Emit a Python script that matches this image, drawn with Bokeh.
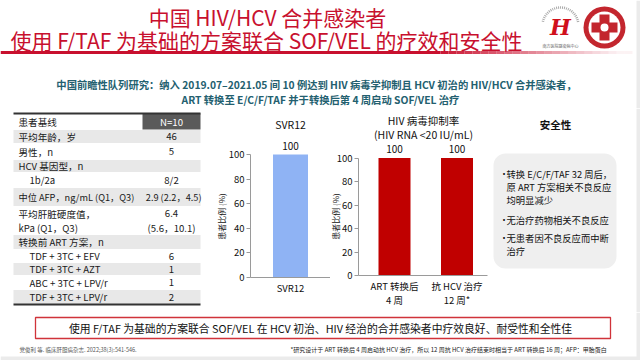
from bokeh.plotting import figure
from bokeh.layouts import column, row
from bokeh.models import Range1d, FixedTicker, LinearAxis
from bokeh.core.properties import value
from bokeh.embed import file_html
from bokeh.resources import INLINE

FONT = "Noto Sans CJK SC"
RED = "#c8102e"
STRIP = "#ebebeb"

# ---------------- data ----------------
title_lines = ["中国 HIV/HCV 合并感染者",
               "使用 F/TAF 为基础的方案联合 SOF/VEL 的疗效和安全性"]
subtitle_lines = ["中国前瞻性队列研究：纳入 2019.07–2021.05 间 10 例达到 HIV 病毒学抑制且 HCV 初治的 HIV/HCV 合并感染者，",
                  "ART 转换至 E/C/F/TAF 并于转换后第 4 周启动 SOF/VEL 治疗"]
table_header = ["患者基线", "N=10"]
table_labels = [["平均年龄，岁"], ["男性，n"], ["HCV 基因型，n"], ["1b/2a"],
                ["中位 AFP，ng/mL (Q1，Q3)"], ["平均肝脏硬度值，", "kPa (Q1，Q3)"],
                ["转换前 ART 方案，n"], ["TDF + 3TC + EFV"], ["TDF + 3TC + AZT"],
                ["ABC + 3TC + LPV/r"], ["TDF + 3TC + LPV/r"]]
table_values = [["46"], ["5"], [], ["8/2"], ["2.9 (2.2，4.5)"], ["6.4", "(5.6，10.1)"],
                [], ["6"], ["1"], ["1"], ["2"]]
table_indent = [0, 0, 0, 1, 0, 0, 0, 1, 1, 1, 1]
svr_title = "SVR12"
svr_categories = ["SVR12"]
svr_values = [100]
hiv_title = ["HIV 病毒抑制率", "(HIV RNA <20 IU/mL)"]
hiv_categories_l1 = ["ART 转换后", "抗 HCV 治疗"]
hiv_categories_l2 = ["4 周", "12 周*"]
hiv_values = [100, 100]
y_ticks = [0, 20, 40, 60, 80, 100]
y_label = "患者比例 (%)"
safety_title = "安全性"
safety_items = [["转换 E/C/F/TAF 32 周后，", "原 ART 方案相关不良反应", "均明显减少"],
                ["无治疗药物相关不良反应"],
                ["无患者因不良反应而中断", "治疗"]]
conclusion = "使用 F/TAF 为基础的方案联合 SOF/VEL 在 HCV 初治、HIV 经治的合并感染者中疗效良好、耐受性和全性佳"
footnote_left = "党俊利 等. 临床肝胆病杂志. 2022;38(3):541-546."
footnote_right = "*研究设计于 ART 转换后 4 周启动抗 HCV 治疗，所以 12 周抗 HCV 治疗结束时相当于 ART 转换后 16 周；AFP：甲胎蛋白"


def canvas(x0, x1, y0, y1):
    p = figure(width=x1 - x0, height=y1 - y0, x_range=Range1d(x0, x1),
               y_range=Range1d(y1, y0), output_backend="svg",
               toolbar_location=None, x_axis_location=None, y_axis_location=None,
               min_border=0, outline_line_color=None)
    p.grid.visible = False
    p.background_fill_color = "white"
    p.border_fill_color = "white"
    return p


def txt(p, x, y, s, size, color="#1a1a1a", align="left", style="normal",
        angle=0.0, font=FONT):
    p.text(x=[x], y=[y], text=[s], text_font=value(font),
           text_font_size=f"{size}px", text_color=color, text_align=align,
           text_baseline="middle", text_font_style=style, angle=angle)


# ---------------- top ----------------
top = canvas(0, 640, 0, 108)
top.quad(left=[636], right=[640], top=[0], bottom=[108], fill_color=STRIP, line_color=None)
txt(top, 267, 16, title_lines[0], 21, RED, align="center")
txt(top, 266, 39, title_lines[1], 21, RED, align="center")
top.segment(x0=[0], y0=[52], x1=[440], y1=[52], line_color=RED, line_width=3)
n = 24
for i in range(n):
    xa = 440 + i * 8
    top.segment(x0=[xa], y0=[52], x1=[xa + 8], y1=[52], line_color=RED,
                line_width=3, line_alpha=max(0.05, 1 - (i + 1) / n))
# logos
top.arc(x=[560], y=[25], radius=18, start_angle=0.2, end_angle=2.95,
        line_color="#aaaaaa", line_width=2.5, line_dash="1 1")
txt(top, 560, 26, "H", 22, "#d0101c", align="center", style="bold italic",
    font="DejaVu Serif")
txt(top, 560, 45, "南方医院感染病中心", 4, "#666666", align="center")
top.circle(x=[604], y=[27], radius=21, fill_color="#c3262e", line_color=None)
top.circle(x=[604], y=[27], radius=16, fill_color="white", line_color=None)
top.quad(left=[599], right=[609], top=[14], bottom=[40], fill_color="#c3262e", line_color=None)
top.quad(left=[591], right=[617], top=[22], bottom=[32], fill_color="#c3262e", line_color=None)
top.circle(x=[604], y=[27], radius=4, fill_color="white", line_color=None)
txt(top, 316, 84, subtitle_lines[0], 10.3, "#23606f", align="center", style="bold")
txt(top, 320, 99, subtitle_lines[1], 10.3, "#23606f", align="center", style="bold")

# ---------------- table ----------------
tab = canvas(0, 205, 108, 312)
row_edges = [113, 129, 143, 159, 172, 187, 206, 234, 249, 262, 275, 289, 304]
tab.quad(left=[142], right=[200], top=[row_edges[0]], bottom=[row_edges[1]],
         fill_color="#5a5a5a", line_color=None)
for i in range(len(table_labels)):
    t, b = row_edges[i + 1], row_edges[i + 2]
    if i % 2 == 0:
        tab.quad(left=[13], right=[200], top=[t + 0.5], bottom=[b - 0.5],
                 fill_color="#e8e8e8", line_color=None)
tab.segment(x0=[13], y0=[113], x1=[200], y1=[113], line_color="#333333", line_width=2)
tab.segment(x0=[13], y0=[304], x1=[200], y1=[304], line_color="#333333", line_width=2)
TF = 9.6
txt(tab, 18, 121, table_header[0], TF)
txt(tab, 171, 121, table_header[1], TF, "white", align="center")
for i, (labs, vals, ind) in enumerate(zip(table_labels, table_values, table_indent)):
    yc = (row_edges[i + 1] + row_edges[i + 2]) / 2
    k = len(labs)
    for j, lab in enumerate(labs):
        txt(tab, 29 if ind else 18, yc + (j - (k - 1) / 2) * 14, lab,
            9.2 if i == 4 else TF)
    kv = len(vals)
    for j, val in enumerate(vals):
        yy = yc + (j - (kv - 1) / 2) * 14
        if i == 4:
            txt(tab, 201, yy, val, 9.2, align="right")
        else:
            txt(tab, 171, yy, val, TF, align="center")


# ---------------- bar charts ----------------
def style_axis(ax):
    ax.minor_tick_line_color = None
    ax.axis_line_color = "#9a9a9a"
    ax.major_tick_line_color = "#9a9a9a"
    ax.major_label_text_font = FONT
    ax.major_label_text_font_size = "9.5px"
    ax.major_label_text_color = "#111111"


def bar_chart(x0, x1, frame_left, frame_right, zero_px, hundred_px, ncat, vals,
              color, bar_px, spacing_px, first_center_px):
    ppu = (zero_px - hundred_px) / 100.0
    xs = list(range(ncat))
    p = figure(width=x1 - x0, height=204,
               x_range=Range1d(-(first_center_px - x0) / spacing_px,
                               (x1 - first_center_px) / spacing_px),
               y_range=Range1d(-(312 - zero_px) / ppu, (zero_px - 108) / ppu),
               output_backend="svg", toolbar_location=None,
               x_axis_location=None, y_axis_location=None,
               min_border=0, outline_line_color=None)
    p.grid.visible = False
    p.background_fill_color = "white"
    p.border_fill_color = "white"
    p.vbar(x=xs, top=vals, width=bar_px / spacing_px, fill_color=color, line_color=None)
    p.text(x=xs, y=vals, text=[str(v) for v in vals], text_font=value(FONT),
           text_font_size="10px", text_color="#111111", text_align="center",
           text_baseline="middle", y_offset=-9)
    xl = -(first_center_px - frame_left) / spacing_px
    xr = (frame_right - first_center_px) / spacing_px
    ya = LinearAxis(ticker=FixedTicker(ticks=y_ticks), bounds=(0, 100),
                    fixed_location=xl, major_tick_out=4, major_tick_in=0,
                    major_label_standoff=2)
    style_axis(ya)
    p.add_layout(ya, "left")
    xa = LinearAxis(ticker=FixedTicker(ticks=xs), bounds=(xl, xr), fixed_location=0,
                    major_tick_out=0, major_tick_in=0, major_label_standoff=3)
    style_axis(xa)
    p.add_layout(xa, "below")
    return p, ppu, xa


svr, svr_ppu, svr_xa = bar_chart(205, 330, 250, 330, 277, 154, len(svr_categories),
                                 svr_values, "#8fb3f4", 35, 80, 290)
svr_xa.major_label_overrides = {i: c for i, c in enumerate(svr_categories)}
svr.text(x=[0], y=[(277 - 124) / svr_ppu], text=[svr_title], text_font=value(FONT),
         text_font_size="10.5px", text_color="#111111", text_align="center",
         text_baseline="middle")
svr.text(x=[(221 - 290) / 80], y=[(277 - 216) / svr_ppu], text=[y_label],
         text_font=value(FONT), text_font_size="8px", text_color="#111111",
         text_align="center", text_baseline="middle", angle=1.5708)

hiv, hiv_ppu, hiv_xa = bar_chart(330, 490, 358, 487, 275, 157.5, len(hiv_values),
                                 hiv_values, "#c00000", 32, 62.5, 394)
hiv_xa.major_label_overrides = {i: c for i, c in enumerate(hiv_categories_l1)}
xa2 = LinearAxis(ticker=FixedTicker(ticks=[0, 1]), fixed_location=0,
                 major_tick_out=0, major_tick_in=0, major_label_standoff=17)
style_axis(xa2)
xa2.axis_line_color = None
xa2.major_label_overrides = {i: c for i, c in enumerate(hiv_categories_l2)}
hiv.add_layout(xa2, "below")
hiv.text(x=[(423 - 394) / 62.5] * 2, y=[(275 - 120) / hiv_ppu, (275 - 134) / hiv_ppu],
         text=hiv_title, text_font=value(FONT), text_font_size="10.5px",
         text_color="#111111", text_align="center", text_baseline="middle")
hiv.text(x=[(335 - 394) / 62.5], y=[(275 - 216) / hiv_ppu], text=[y_label],
         text_font=value(FONT), text_font_size="8px", text_color="#111111",
         text_align="center", text_baseline="middle", angle=1.5708)

# ---------------- safety ----------------
saf = canvas(490, 640, 108, 312)
saf.quad(left=[636], right=[640], top=[108], bottom=[312], fill_color=STRIP, line_color=None)
txt(saf, 555, 124, safety_title, 10.5, "#111111", align="center", style="bold")
saf.quad(left=[493], right=[616], top=[153], bottom=[268], fill_color="#efefef",
         line_color=None, border_radius=12)
line_ys = [[173, 186, 199], [219], [237, 250]]
for item, ys in zip(safety_items, line_ys):
    txt(saf, 499, ys[0], "•", 9, "#111111")
    for s, yy in zip(item, ys):
        txt(saf, 506, yy, s, 9.3, "#111111")

# ---------------- bottom ----------------
bot = canvas(0, 640, 312, 360)
bot.quad(left=[636], right=[640], top=[312], bottom=[360], fill_color=STRIP, line_color=None)
bot.quad(left=[0], right=[640], top=[356], bottom=[360], fill_color=STRIP, line_color=None)
bot.quad(left=[35], right=[610], top=[317], bottom=[338], fill_color="white",
         line_color="#d0333a", line_width=1.3)
txt(bot, 320, 327.5, conclusion, 10.8, "#111111", align="center")
txt(bot, 19, 349, footnote_left, 5.5, "#555555")
txt(bot, 290, 349, footnote_right, 6, "#222222")

layout = column(top, row(tab, svr, hiv, saf), bot)
open("out.html", "w").write(file_html(layout, INLINE))
